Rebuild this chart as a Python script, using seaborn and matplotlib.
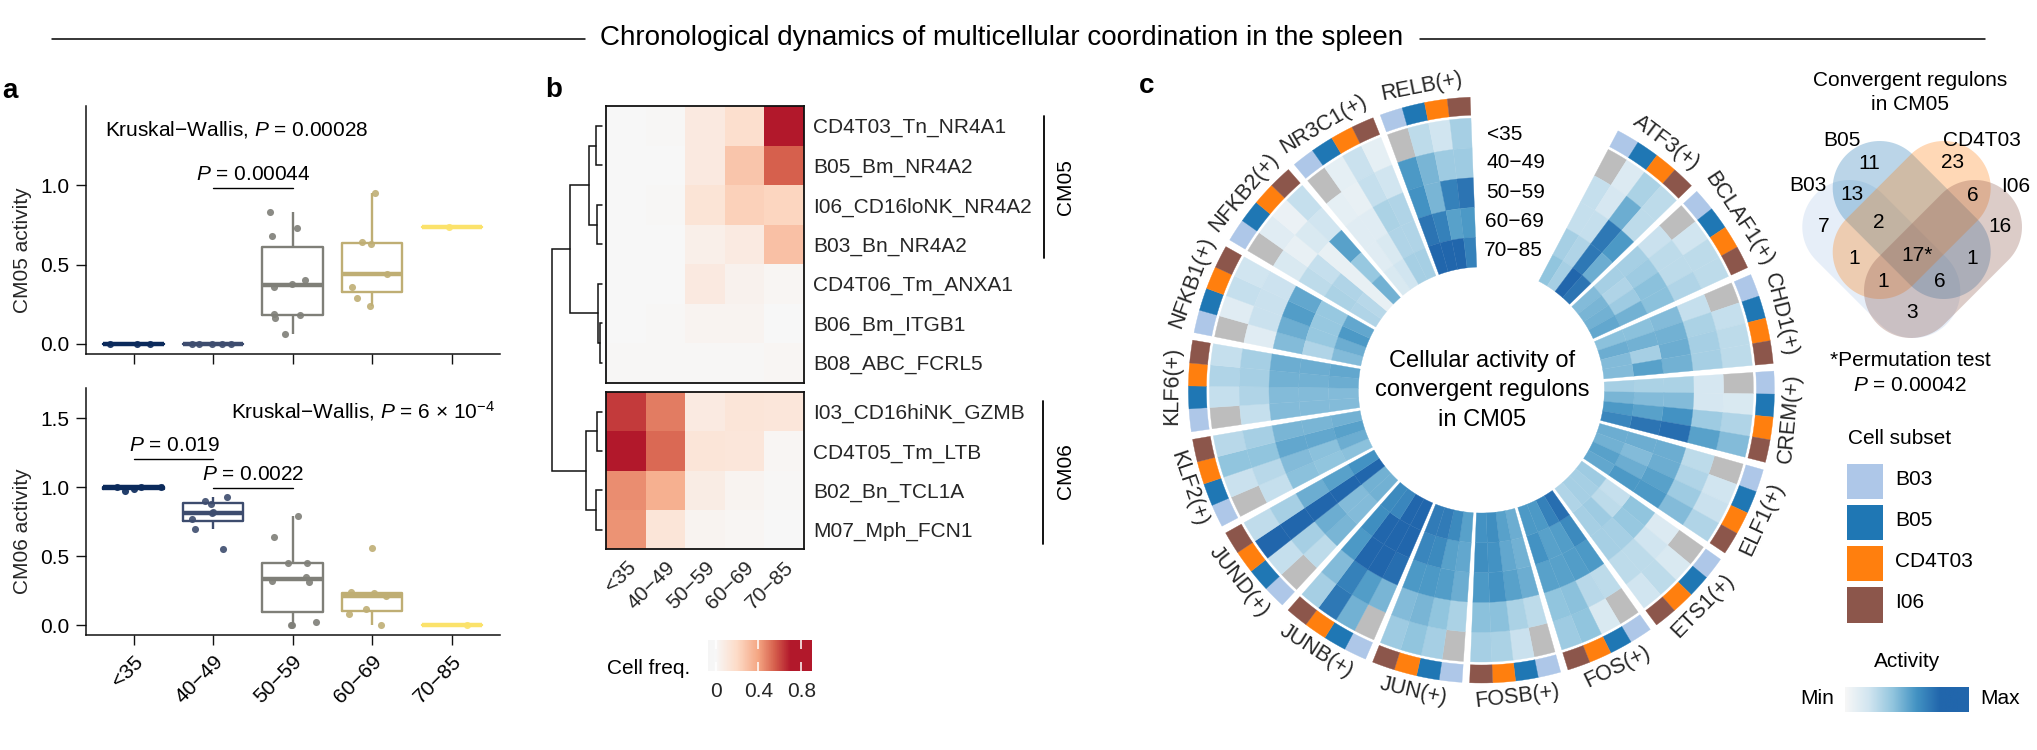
import numpy as np, pandas as pd
import matplotlib
matplotlib.use("Agg")
import matplotlib.pyplot as plt
import seaborn as sns
from matplotlib.colors import LinearSegmentedColormap
from matplotlib.patches import Polygon, Rectangle

W, H = 2037, 750
sns.set_theme(style="white")
plt.rcParams["font.family"] = ["Liberation Sans", "DejaVu Sans"]
plt.rcParams["mathtext.fontset"] = "custom"
plt.rcParams["mathtext.rm"] = "Liberation Sans"
plt.rcParams["mathtext.it"] = "Liberation Sans:italic"
plt.rcParams["mathtext.default"] = "regular"
FS = 15

# ---------- data ----------
ages = ["<35", "40\u221249", "50\u221259", "60\u221269", "70\u221285"]
age_colors = ["#0b2a5b", "#3d4c6e", "#7f7f78", "#bfae74", "#fbe26b"]

cm05_vals = [[0, 0, 0],
             [0, 0, 0, 0, 0],
             [.83, .73, .68, .40, .38, .36, .19, .18, .16, .06],
             [.95, .64, .63, .44, .36, .29, .24],
             [.74]]
cm05_jit = [[-.29, .05, .21],
            [-.26, -.18, -.01, .11, .23],
            [-.28, .06, -.26, .15, -.01, -.24, -.24, .09, -.22, -.10],
            [.04, -.13, -.02, .19, -.26, -.19, -.03],
            [-.03]]
cm06_vals = [[1.0, .97, .99, 1.0, 1.0],
             [.93, .90, .88, .82, .81, .77, .70, .55],
             [.79, .64, .45, .45, .35, .32, .31, 0, 0, .02],
             [.56, .24, .23, .21, .12, .08, 0],
             [0]]
cm06_jit = [[-.21, -.11, 0, .10, .35],
            [.18, -.10, -.02, 0, -.01, -.26, -.23, .13],
            [.07, -.23, -.06, .18, .17, -.26, .20, -.01, -.02, .29],
            [0, -.27, .02, .17, -.08, -.29, .11],
            [.19]]

hm_rows_top = ["CD4T03_Tn_NR4A1", "B05_Bm_NR4A2", "I06_CD16loNK_NR4A2", "B03_Bn_NR4A2",
               "CD4T06_Tm_ANXA1", "B06_Bm_ITGB1", "B08_ABC_FCRL5"]
hm_top = [[0, .01, .10, .17, .85],
          [0, 0, .10, .28, .55],
          [0, .01, .14, .24, .22],
          [0, 0, .06, .09, .30],
          [0, 0, .10, .04, .02],
          [0, .01, .03, .03, 0],
          [.01, .01, .01, .01, .02]]
hm_rows_bot = ["I03_CD16hiNK_GZMB", "CD4T05_Tm_LTB", "B02_Bn_TCL1A", "M07_Mph_FCN1"]
hm_bot = [[.63, .49, .09, .13, .12],
          [.82, .53, .13, .12, .02],
          [.45, .36, .08, .03, .01],
          [.44, .13, .03, .02, 0]]
# dendrogram merges: child a, child b, distance (ids >= 11 are earlier merges)
dendro_merges = [(0, 1, .11), (2, 3, .10), (11, 12, .26), (5, 6, .04), (4, 14, .07),
                 (13, 15, .635), (7, 8, .09), (9, 10, .11), (17, 18, .31), (16, 19, 1.0)]

regulons = ["ATF3(+)", "BCLAF1(+)", "CHD1(+)", "CREM(+)", "ELF1(+)", "ETS1(+)", "FOS(+)", "FOSB(+)",
            "JUN(+)", "JUNB(+)", "JUND(+)", "KLF2(+)", "KLF6(+)", "NFKB1(+)", "NFKB2(+)", "NR3C1(+)", "RELB(+)"]
subsets = ["B03", "B05", "CD4T03", "I06"]
subset_colors = ["#aec7e8", "#1f77b4", "#ff7f0e", "#8c564b"]
n = np.nan
activity = [
 [[n,.18,.40,.33],[.30,.22,.62,.33],[.30,.30,.90,.72],[.42,.38,.90,.62],[.50,.42,1.0,.92]],
 [[n,.25,.33,.33],[.28,.33,.33,.38],[.42,.45,.52,.52],[.42,.38,.45,.60],[.55,.58,.60,.65]],
 [[n,.30,.33,.33],[.30,.40,.42,.42],[.55,.60,.62,.60],[.52,.60,.42,.68],[.52,.62,.55,.55]],
 [[n,.20,.38,.55],[.22,.22,.45,.68],[.40,.55,.75,.95],[.40,.55,.68,.92],[.42,.58,.72,.82]],
 [[n,.25,.28,.38],[.33,.38,.45,.55],[.62,.62,.68,.72],[.62,.55,.62,.72],[.62,.60,.68,.65]],
 [[n,.20,.33,.25],[.18,.25,.33,.33],[.50,.48,.42,.42],[.30,.33,.45,.42],[.45,.42,.42,.38]],
 [[n,.20,.50,.45],[.33,.35,.52,.50],[.72,.70,.68,.68],[.80,.70,.68,.75],[.95,.85,.72,.72]],
 [[n,.28,.40,.42],[.33,.40,.52,.52],[.62,.68,.75,.72],[.60,.65,.75,.78],[.62,.68,.78,.75]],
 [[n,.42,.50,.45],[.40,.50,.58,.55],[.62,.70,.72,.72],[.65,.68,.80,.82],[.68,.80,.88,.88]],
 [[n,.60,.90,.42],[.58,.70,.85,.55],[.95,1.0,1.0,.72],[1.0,1.0,1.0,.78],[1.0,1.0,.82,.80]],
 [[n,.30,1.0,.32],[.33,.42,1.0,.42],[.58,.62,1.0,.62],[.55,.55,1.0,.68],[.60,.60,1.0,.75]],
 [[n,.28,.50,.35],[.30,.35,.50,.42],[.52,.55,.65,.58],[.50,.52,.65,.58],[.52,.62,.68,.60]],
 [[n,.30,.38,.30],[.30,.38,.42,.42],[.55,.55,.60,.62],[.55,.55,.60,.62],[.55,.55,.62,.65]],
 [[n,.15,.30,.25],[.15,.28,.28,.27],[.55,.62,.70,.65],[.38,.48,.48,.48],[.55,.62,.72,.65]],
 [[n,.15,.08,.30],[.20,.10,.20,.25],[.33,.30,.10,.68],[.40,.38,.10,.48],[.38,.35,.10,.60]],
 [[n,.12,.28,.12],[.12,.10,.30,.25],[.15,.15,.40,.38],[.15,.20,.38,.38],[.20,.25,.42,.42]],
 [[n,.33,.25,.42],[.72,.58,.45,.45],[.75,.58,.85,.92],[.92,.85,.68,.72],[1.0,1.0,1.0,.85]],
]
venn_counts = ["11", "23", "13", "6", "7", "2", "16", "1", "17*", "1", "1", "6", "3"]

# ---------- helpers ----------
fig = plt.figure(figsize=(W / 100, H / 100), dpi=100)
def axpx(l, t, r, b, **kw):
    return fig.add_axes([l / W, 1 - b / H, (r - l) / W, (b - t) / H], **kw)
ov = fig.add_axes([0, 0, 1, 1], zorder=10)
ov.set_xlim(0, W); ov.set_ylim(H, 0); ov.axis("off"); ov.patch.set_alpha(0)
def T(x, y, s, ha="center", va="center", fs=FS, **kw):
    return ov.text(x, y, s, ha=ha, va=va, fontsize=fs, color="black", **kw)

# ---------- title ----------
T(1002, 38, "Chronological dynamics of multicellular coordination in the spleen", fs=20)
ov.plot([52, 585], [39, 39], color="black", lw=1.1)
ov.plot([1420, 1985], [39, 39], color="black", lw=1.1)
T(2, 91, "a", ha="left", fs=20, fontweight="bold")
T(545, 90, "b", ha="left", fs=20, fontweight="bold")
T(1139, 86, "c", ha="left", fs=20, fontweight="bold")

# ---------- panel a ----------
def boxes(ax, vals, jit, ylim, yticks, ylabel, show_labels):
    df = pd.DataFrame({"age": [a for a, v in zip(ages, vals) for _ in v],
                       "v": [x for v in vals for x in v]})
    sns.boxplot(data=df, x="age", y="v", hue="age", order=ages, hue_order=ages, palette=age_colors,
                dodge=False, fill=False, width=.76, linewidth=1.7, showcaps=False, showfliers=False,
                whis=1.5, medianprops={"linewidth": 3.2}, legend=False, ax=ax)
    for i, (v, j) in enumerate(zip(vals, jit)):
        sns.scatterplot(x=np.array(j) + i, y=v, color=age_colors[i], s=26, linewidth=0, alpha=.9,
                        legend=False, ax=ax, zorder=3)
    ax.set_xlim(-.597, 4.6); ax.set_ylim(*ylim)
    ax.set_yticks(yticks); ax.set_yticklabels([f"{t:.1f}" for t in yticks])
    ax.set_xticks(range(5))
    ax.set_xticklabels(ages if show_labels else [""] * 5, rotation=45, ha="right", rotation_mode="anchor")
    ax.set_xlabel(""); ax.set_ylabel(ylabel, fontsize=FS, labelpad=0)
    for s in ["top", "right"]:
        ax.spines[s].set_visible(False)
    for s in ["left", "bottom"]:
        ax.spines[s].set_linewidth(1.1); ax.spines[s].set_color("#111111")
    ax.tick_params(axis="both", labelsize=FS, length=7, width=1, color="#111111", left=True, bottom=True,
                   pad=5, labelcolor="black")
    ax.patch.set_alpha(0)

a1 = axpx(86, 106, 499.5, 354)
boxes(a1, cm05_vals, cm05_jit, (-.064, 1.50), [0, .5, 1.0], "CM05 activity", False)
a1.plot([1, 2], [.98, .98], color="black", lw=1)
a2 = axpx(86, 388, 499.5, 635.3)
boxes(a2, cm06_vals, cm06_jit, (-.074, 1.72), [0, .5, 1.0, 1.5], "CM06 activity", True)
a2.plot([0, 1], [1.206, 1.206], color="black", lw=1)
a2.plot([1, 2], [.995, .995], color="black", lw=1)
a1.yaxis.set_label_coords(-.13, .42)
a2.yaxis.set_label_coords(-.13, .42)
T(105, 130, "Kruskal\u2212Wallis, $\\mathit{P}$ = 0.00028", ha="left")
T(253, 174, "$\\mathit{P}$ = 0.00044")
T(495, 411, "Kruskal\u2212Wallis, $\\mathit{P}$ = 6 \u00d7 10$^{\\mathregular{\u22124}}$", ha="right")
T(174, 445.6, "$\\mathit{P}$ = 0.019")
T(253, 474.6, "$\\mathit{P}$ = 0.0022")

# ---------- panel b ----------
vmin, vmax = -.07, .9
def nrm(v): return (v - vmin) / (vmax - vmin)
reds = LinearSegmentedColormap.from_list("reds2", [(0, "#f5f5f5"), (nrm(0), "#f7f7f7"), (nrm(.2), "#fddbc7"),
        (nrm(.4), "#f4a582"), (nrm(.55), "#d6604d"), (nrm(.7), "#b2182b"), (1, "#b2182b")])
hl, hr = 606.4, 803.5
h1 = axpx(hl, 106, hr, 382.6)
h2 = axpx(hl, 391.9, hr, 549.4)
cax = axpx(708, 640, 812, 671)
sns.heatmap(pd.DataFrame(hm_top, index=hm_rows_top, columns=ages), ax=h1, cmap=reds, vmin=vmin, vmax=vmax, cbar=False)
sns.heatmap(pd.DataFrame(hm_bot, index=hm_rows_bot, columns=ages), ax=h2, cmap=reds, vmin=vmin, vmax=vmax,
            cbar=True, cbar_ax=cax, cbar_kws={"orientation": "horizontal", "ticks": [0, .4, .8]})
for ax in (h1, h2):
    ax.yaxis.tick_right()
    ax.tick_params(axis="y", length=0, labelsize=FS, pad=7, labelrotation=0)
    for s in ax.spines.values():
        s.set_visible(True); s.set_linewidth(1.3); s.set_color("#111111")
    ax.set_xlabel(""); ax.set_ylabel("")
h1.set_xticks([])
h2.tick_params(axis="x", length=0, labelsize=FS, pad=6)
h2.set_xticklabels(ages, rotation=45, ha="right", rotation_mode="anchor")
cb = h2.collections[0].colorbar
cb.outline.set_visible(False)
cb.set_ticklabels(["0", "0.4", "0.8"])
cax.tick_params(axis="x", length=0, labelsize=FS, pad=8)
for t in [0, .4, .8]:
    for y0, y1 in [(0, .29), (.71, 1)]:
        cax.plot([t, t], [y0, y1], color="white", lw=1.1, transform=cax.get_xaxis_transform(), zorder=5,
                 solid_capstyle="butt")
T(607, 668, "Cell freq.", ha="left")
ov.plot([1044, 1044], [116, 258], color="black", lw=1.3)
ov.plot([1042.7, 1042.7], [401, 544], color="black", lw=1.3)
T(1065.5, 187, "CM05", rotation=90)
T(1065, 471.5, "CM06", rotation=90)

# dendrogram
dax = axpx(551.8, 60, 601.6, 600)
dax.set_xlim(1.0, 0); dax.set_ylim(600, 60); dax.axis("off")
rh1 = (382.6 - 106) / 7; rh2 = (549.4 - 391.9) / 4
pos = [106 + rh1 * (i + .5) for i in range(7)] + [391.9 + rh2 * (i + .5) for i in range(4)]
hgt = [0.0] * 11
for a, b, d in dendro_merges:
    dax.plot([hgt[a], d, d, hgt[b]], [pos[a], pos[a], pos[b], pos[b]], color="#111111", lw=1.1,
             solid_joinstyle="miter", clip_on=False)
    pos.append((pos[a] + pos[b]) / 2); hgt.append(d)

# ---------- panel c ----------
R = 300
cx, cy = 1481.4, 390
pol = fig.add_axes([(cx - R) / W, 1 - (cy + R) / H, 2 * R / W, 2 * R / H], projection="polar", zorder=2)
pol.set_theta_zero_location("N"); pol.set_theta_direction(-1)
pol.set_ylim(0, R); pol.axis("off")
blues = LinearSegmentedColormap.from_list("blues2", [(0, "#f7f7f7"), (.25, "#d1e5f0"), (.5, "#92c5de"),
                                                     (.75, "#4393c3"), (1, "#2166ac")])
start, span, gap = 27.8, 18.0, 1.5
r0, ring = 123, (272 - 123) / 5
cell = span / 4
for s, (name, mat) in enumerate(zip(regulons, activity)):
    t0 = start + s * (span + gap)
    for c in range(4):
        th = np.deg2rad(t0 + c * cell)
        for rw in range(5):
            v = mat[rw][c]
            col = "#bdbdbd" if np.isnan(v) else blues(v)
            pol.bar(th, ring, width=np.deg2rad(cell), bottom=r0 + (4 - rw) * ring, align="edge",
                    color=col, edgecolor=col, linewidth=.25)
        pol.bar(th, 18, width=np.deg2rad(cell), bottom=275, align="edge", color=subset_colors[c],
                edgecolor=subset_colors[c], linewidth=.25)
    mid = t0 + span / 2
    rot = -mid if (mid < 90 or mid > 270) else 180 - mid
    pol.text(np.deg2rad(mid), 309, name, ha="center", va="center", rotation=rot, rotation_mode="anchor",
             fontsize=15.5, clip_on=False)
for lab, x, y in zip(ages, [1487, 1486.5, 1486, 1485, 1484], [134, 163, 192.5, 221.5, 250.6]):
    T(x, y, lab, ha="left")
T(1482, 360.6, "Cellular activity of", fs=17)
T(1482, 390, "convergent regulons", fs=17)
T(1482, 420, "in CM05", fs=17)

# ---------- venn ----------
def stadium(l, t, sign, color):
    rho = 47.0
    c1 = (l + rho, t + rho) if sign > 0 else (l + 158 - rho, t + rho)
    c2 = (l + 158 - rho, t + 158 - rho) if sign > 0 else (l + rho, t + 158 - rho)
    a0 = np.arctan2(c2[1] - c1[1], c2[0] - c1[0])
    ang1 = np.linspace(a0 + np.pi / 2, a0 + 3 * np.pi / 2, 50)
    ang2 = np.linspace(a0 - np.pi / 2, a0 + np.pi / 2, 50)
    pts = np.vstack([np.c_[c1[0] + rho * np.cos(ang1), c1[1] + rho * np.sin(ang1)],
                     np.c_[c2[0] + rho * np.cos(ang2), c2[1] + rho * np.sin(ang2)]])
    ov.add_patch(Polygon(pts, closed=True, facecolor=color, edgecolor="none", alpha=.3))
stadium(1802.3, 180, 1, subset_colors[0])
stadium(1832.7, 141, 1, subset_colors[1])
stadium(1832.7, 141, -1, subset_colors[2])
stadium(1864, 180, -1, subset_colors[3])
T(1910, 80, "Convergent regulons"); T(1910, 104, "in CM05")
for lab, x, y in zip(["B05", "CD4T03", "B03", "I06"], [1841.7, 1981.7, 1808.3, 2015.7], [140.5, 140.5, 185.4, 186.3]):
    T(x, y, lab)
vx = [1869, 1952.7, 1851.7, 1972.7, 1824, 1879, 2000, 1854, 1916.7, 1972, 1883.3, 1940.3, 1911.7]
vy = [163.4, 162.6, 194.2, 195.6, 226, 222, 226, 259, 255.9, 258, 281.4, 281.4, 312.2]
for lab, x, y in zip(venn_counts, vx, vy):
    T(x, y, lab)
T(1910, 360.6, "*Permutation test"); T(1910, 385.7, "$\\mathit{P}$ = 0.00042")

# legends
T(1847.7, 438.5, "Cell subset", ha="left")
for lab, col, t, b, yt in zip(subsets, subset_colors, [464, 505.4, 546.4, 587.3], [499, 539.8, 581, 622.5],
                              [479.5, 520.4, 561.8, 602.7]):
    ov.add_patch(Rectangle((1847.3, t), 35.7, b - t, facecolor=col, edgecolor="none"))
    T(1895, yt, lab, ha="left")
T(1906.7, 661.7, "Activity")
gax = axpx(1845, 687, 1969, 712)
gax.imshow(np.linspace(0, 1.3, 256)[None, :], cmap=blues, vmin=0, vmax=1, aspect="auto")
gax.axis("off")
T(1817.3, 698, "Min"); T(2000, 698, "Max")

fig.savefig("out.png", dpi=100)
